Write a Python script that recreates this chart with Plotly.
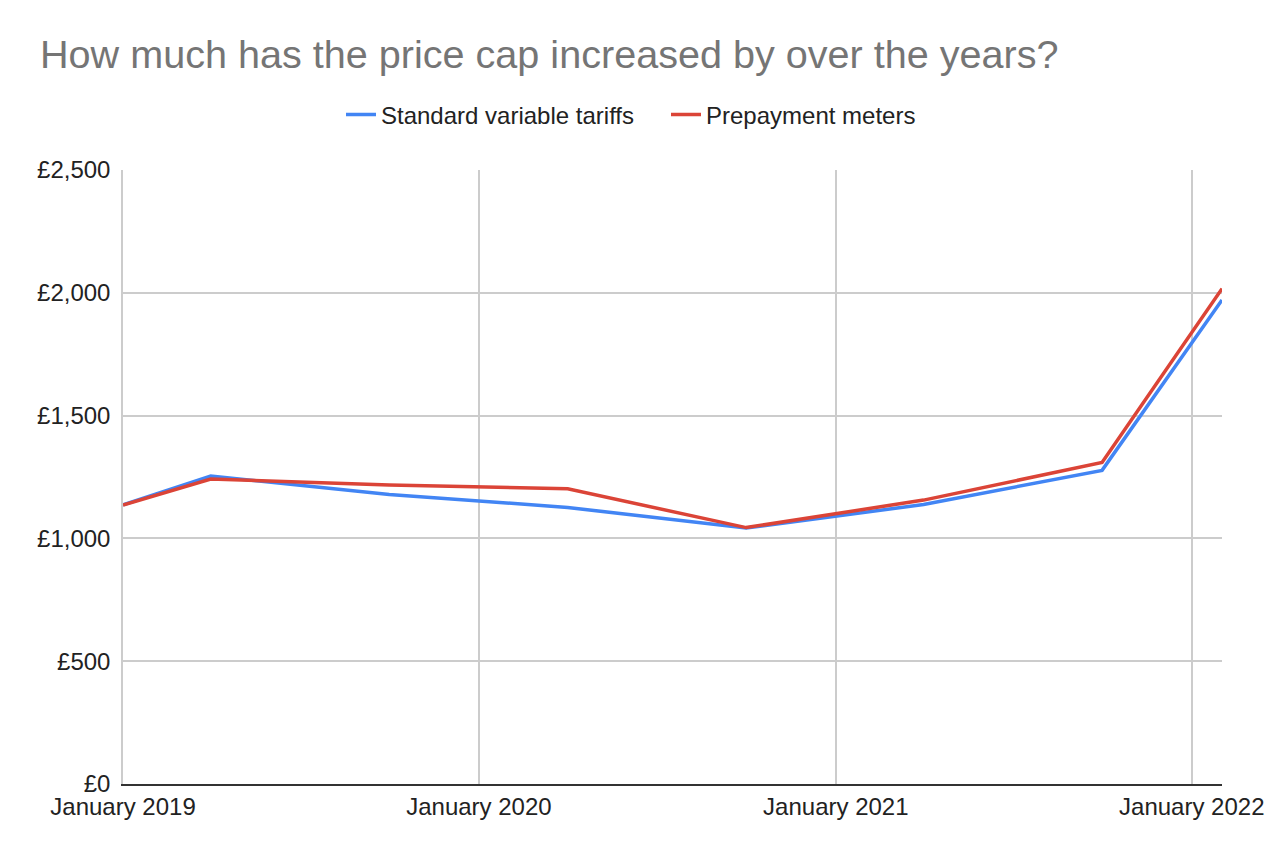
import plotly.graph_objects as go

dates = ["2019-01-01", "2019-04-01", "2019-10-01", "2020-04-01",
         "2020-10-01", "2021-04-01", "2021-10-01", "2022-02-01"]
standard_variable = [1137, 1254, 1179, 1126, 1042, 1138, 1277, 1971]
prepayment = [1136, 1242, 1217, 1202, 1044, 1156, 1309, 2017]

title_text = "How much has the price cap increased by over the years?"
series_names = ["Standard variable tariffs", "Prepayment meters"]
colors = ["#4285F4", "#DB4437"]

FONT = "Liberation Sans, Arial, sans-serif"

fig = go.Figure()
fig.add_trace(go.Scatter(x=dates, y=standard_variable, mode="lines",
                         name=series_names[0],
                         line=dict(color=colors[0], width=3.5)))
fig.add_trace(go.Scatter(x=dates, y=prepayment, mode="lines",
                         name=series_names[1],
                         line=dict(color=colors[1], width=3.5)))

fig.update_layout(
    width=1266, height=858,
    margin=dict(l=123, r=44, t=170, b=74, autoexpand=False),
    paper_bgcolor="white", plot_bgcolor="white",
    font=dict(family=FONT, size=24, color="#222222"),
    title=dict(text=title_text, x=40 / 1266, xref="container", xanchor="left",
               y=1 - 54 / 858, yref="container", yanchor="middle",
               font=dict(family=FONT, size=39.6, color="#757575")),
    legend=dict(orientation="h", xref="container", yref="container",
                x=341 / 1266, xanchor="left", y=1 - 115 / 858, yanchor="middle",
                font=dict(family=FONT, size=24, color="#222222"),
                entrywidth=280, bgcolor="rgba(0,0,0,0)"),
    showlegend=True,
)

fig.update_xaxes(
    type="date", range=["2019-01-01", "2022-02-01"],
    tick0="2019-01-01", dtick="M12", tickformat="%B %Y",
    showgrid=True, gridcolor="#cccccc", gridwidth=1.5,
    showline=True, linecolor="#333333", linewidth=2,
    ticks="", zeroline=False, automargin=False,
    ticklabeloverflow="allow", ticklabelstandoff=0,
    tickfont=dict(family=FONT, size=24, color="#222222"),
)
fig.update_yaxes(
    range=[0, 2500], dtick=500, tickprefix="£", tickformat=",d",
    showgrid=True, gridcolor="#cccccc", gridwidth=1.5,
    showline=True, linecolor="#cccccc", linewidth=1.5,
    ticks="", zeroline=False, automargin=False,
    ticklabelstandoff=6,
    tickfont=dict(family=FONT, size=24, color="#222222"),
)

fig.write_html("out.html", config={"displayModeBar": False},
               post_script="document.body.style.margin='0';document.body.style.overflow='hidden';")
